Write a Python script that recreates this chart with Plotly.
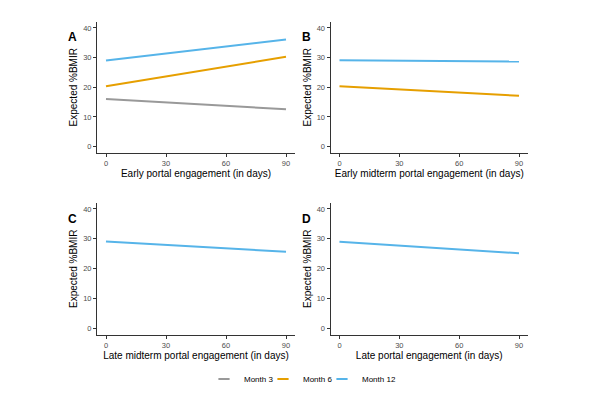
import plotly.graph_objects as go

x_days = [0, 90]
series_names = ["Month 3", "Month 6", "Month 12"]
colors = {"Month 3": "#999999", "Month 6": "#E69F00", "Month 12": "#56B4E9"}

panel_A = {"Month 3": [16.0, 12.6], "Month 6": [20.3, 30.3], "Month 12": [29.0, 36.1]}
panel_B = {"Month 6": [20.3, 17.1], "Month 12": [29.1, 28.7]}
panel_C = {"Month 12": [29.1, 25.7]}
panel_D = {"Month 12": [29.0, 25.2]}

panels = [panel_A, panel_B, panel_C, panel_D]
letters = ["A", "B", "C", "D"]
xtitles = [
    "Early portal engagement (in days)",
    "Early midterm portal engagement (in days)",
    "Late midterm portal engagement (in days)",
    "Late portal engagement (in days)",
]
x_ticks = [0, 30, 60, 90]
y_ticks = [0, 10, 20, 30, 40]

W, H = 600, 400
xdoms = [[97 / W, 295 / W], [330.5 / W, 528 / W]]
ydoms = [[1 - 152.5 / H, 1 - 22 / H], [1 - 334.5 / H, 1 - 203 / H]]

fig = go.Figure()
font = "Liberation Sans, Arial, sans-serif"
layout = dict(
    width=W, height=H, margin=dict(l=0, r=0, t=0, b=0),
    paper_bgcolor="white", plot_bgcolor="white",
    font=dict(family=font, color="#000000"),
    showlegend=True,
    legend=dict(orientation="h", x=204 / W, xanchor="left", y=1 - 379 / H, yanchor="middle",
                font=dict(size=8, color="#000000"), itemwidth=30, tracegroupgap=0,
                entrywidth=14, entrywidthmode="pixels"),
)
annotations = []
for i, p in enumerate(panels):
    r, c = divmod(i, 2)
    ax = "" if i == 0 else str(i + 1)
    for name in series_names:
        if name in p:
            fig.add_trace(go.Scatter(
                x=x_days, y=p[name], mode="lines", name=name,
                line=dict(color=colors[name], width=2),
                xaxis="x" + ax, yaxis="y" + ax,
                showlegend=False, legendgroup=name,
            ))
    layout["xaxis" + ax] = dict(
        domain=xdoms[c], range=[-4.5, 94.5], tickvals=x_ticks, showgrid=False, zeroline=False,
        showline=True, linecolor="#333333", linewidth=1, ticks="outside", ticklen=3,
        tickcolor="#333333", tickwidth=1, tickfont=dict(size=7.5, color="#4D4D4D"),
        title=dict(text=xtitles[i], font=dict(size=10, color="#000000"), standoff=0),
        anchor="y" + ax, fixedrange=True,
    )
    layout["yaxis" + ax] = dict(
        domain=ydoms[r], range=[-2, 42], tickvals=y_ticks, showgrid=False, zeroline=False,
        showline=True, linecolor="#333333", linewidth=1, ticks="outside", ticklen=3,
        tickcolor="#333333", tickwidth=1, tickfont=dict(size=7.5, color="#4D4D4D"),
        title=dict(text="Expected %BMIR", font=dict(size=10, color="#000000"), standoff=3),
        anchor="x" + ax, fixedrange=True,
    )
    annotations.append(dict(
        text="<b>%s</b>" % letters[i], xref="paper", yref="paper",
        x=xdoms[c][0] - 31 / W, y=1 - (37 + 182 * r) / H,
        xanchor="left", yanchor="middle", showarrow=False,
        font=dict(size=12, color="#000000"),
    ))

# legend keys (one per series)
for name in series_names:
    fig.add_trace(go.Scatter(
        x=[None], y=[None], mode="markers", name=name, legendgroup=name,
        marker=dict(symbol="line-ew", size=8, color=colors[name],
                    line=dict(color=colors[name], width=2)),
        legendwidth=45 if name == "Month 12" else None,
        hoverinfo="skip",
    ))

layout["annotations"] = annotations
fig.update_layout(**layout)
fig.write_html("out.html", post_script="document.body.style.margin='0';",
               config={"displayModeBar": False})
